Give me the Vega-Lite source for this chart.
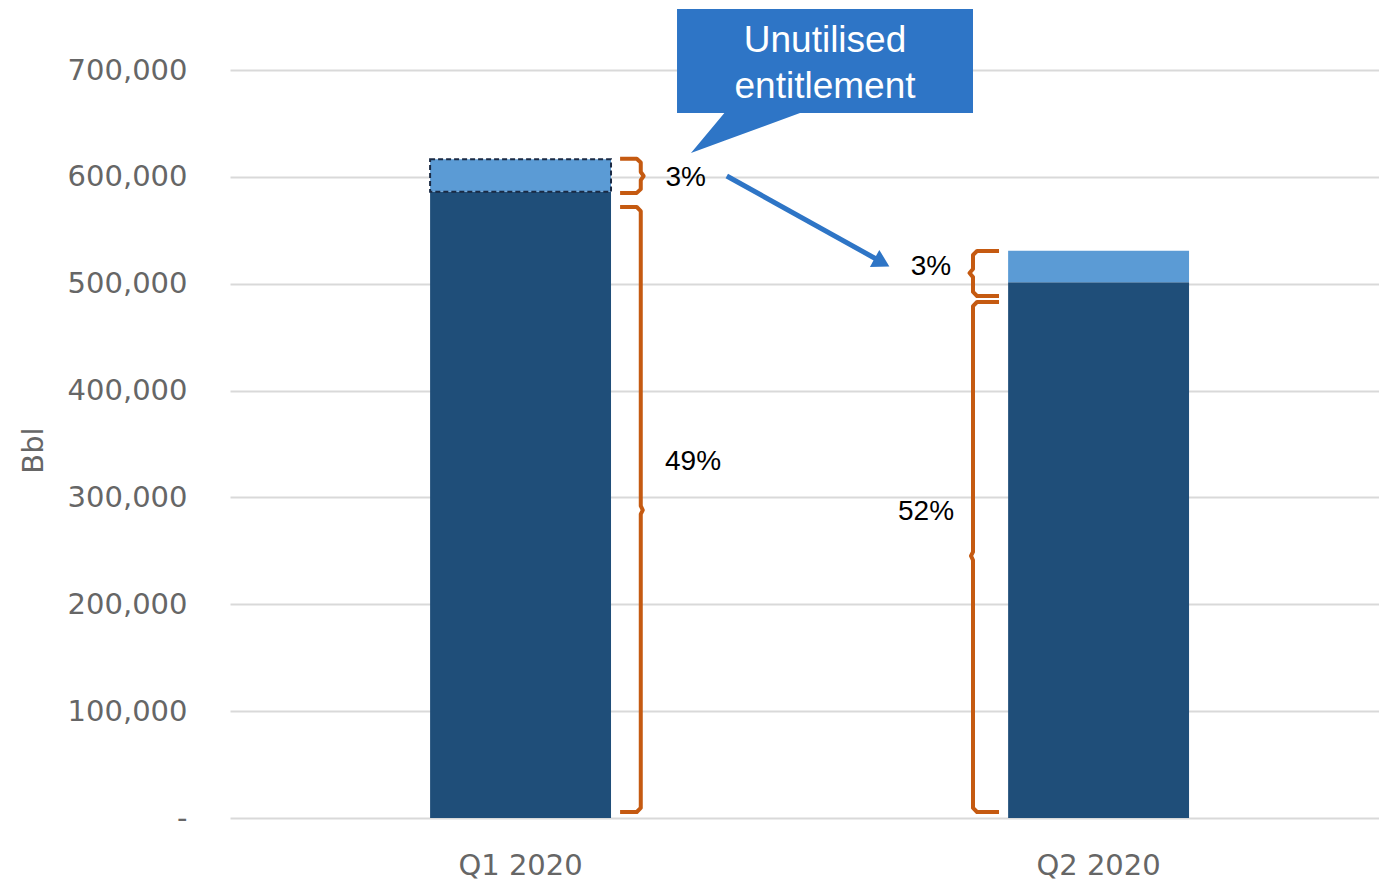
{
  "$schema": "https://vega.github.io/schema/vega-lite/v6.json",
  "width": 1149,
  "height": 748,
  "autosize": {"type": "none"},
  "padding": {"left": 230, "top": 70, "right": 0, "bottom": 65},
  "background": "white",
  "config": {"view": {"stroke": null}, "font": "DejaVu Sans"},
  "datasets": {
    "bars": [
      {"quarter": "Q1 2020", "utilised": 586100, "entitlement": 616400},
      {"quarter": "Q2 2020", "utilised": 501300, "entitlement": 530900}
    ],
    "braces": [
      {"brace": "q1s", "i": 1, "ax": 0.679, "ay": 617000},
      {"brace": "q1s", "i": 2, "ax": 0.708, "ay": 617000},
      {"brace": "q1s", "i": 3, "ax": 0.715, "ay": 613500},
      {"brace": "q1s", "i": 4, "ax": 0.715, "ay": 604500},
      {"brace": "q1s", "i": 5, "ax": 0.72, "ay": 600800},
      {"brace": "q1s", "i": 6, "ax": 0.715, "ay": 597000},
      {"brace": "q1s", "i": 7, "ax": 0.715, "ay": 588500},
      {"brace": "q1s", "i": 8, "ax": 0.708, "ay": 585000},
      {"brace": "q1s", "i": 9, "ax": 0.679, "ay": 585000},
      {"brace": "q1b", "i": 1, "ax": 0.679, "ay": 571800},
      {"brace": "q1b", "i": 2, "ax": 0.708, "ay": 571800},
      {"brace": "q1b", "i": 3, "ax": 0.715, "ay": 568000},
      {"brace": "q1b", "i": 4, "ax": 0.715, "ay": 292000},
      {"brace": "q1b", "i": 5, "ax": 0.7185, "ay": 288200},
      {"brace": "q1b", "i": 6, "ax": 0.715, "ay": 284400},
      {"brace": "q1b", "i": 7, "ax": 0.715, "ay": 9400},
      {"brace": "q1b", "i": 8, "ax": 0.708, "ay": 5600},
      {"brace": "q1b", "i": 9, "ax": 0.679, "ay": 5600},
      {"brace": "q2s", "i": 1, "ax": 1.3386, "ay": 530600},
      {"brace": "q2s", "i": 2, "ax": 1.3003, "ay": 530600},
      {"brace": "q2s", "i": 3, "ax": 1.2933, "ay": 526900},
      {"brace": "q2s", "i": 4, "ax": 1.2933, "ay": 513800},
      {"brace": "q2s", "i": 5, "ax": 1.2873, "ay": 510000},
      {"brace": "q2s", "i": 6, "ax": 1.2933, "ay": 506200},
      {"brace": "q2s", "i": 7, "ax": 1.2933, "ay": 492300},
      {"brace": "q2s", "i": 8, "ax": 1.3003, "ay": 488500},
      {"brace": "q2s", "i": 9, "ax": 1.3386, "ay": 488500},
      {"brace": "q2b", "i": 1, "ax": 1.3386, "ay": 482900},
      {"brace": "q2b", "i": 2, "ax": 1.3003, "ay": 482900},
      {"brace": "q2b", "i": 3, "ax": 1.2933, "ay": 479100},
      {"brace": "q2b", "i": 4, "ax": 1.2933, "ay": 249000},
      {"brace": "q2b", "i": 5, "ax": 1.2898, "ay": 245200},
      {"brace": "q2b", "i": 6, "ax": 1.2933, "ay": 241400},
      {"brace": "q2b", "i": 7, "ax": 1.2933, "ay": 9400},
      {"brace": "q2b", "i": 8, "ax": 1.3003, "ay": 5600},
      {"brace": "q2b", "i": 9, "ax": 1.3386, "ay": 5600}
    ],
    "pcts": [
      {"label": "3%", "ax": 0.7931, "ay": 598900},
      {"label": "49%", "ax": 0.806, "ay": 333200},
      {"label": "3%", "ax": 1.2202, "ay": 515600},
      {"label": "52%", "ax": 1.2115, "ay": 286400}
    ],
    "box": [{"x1": 0.7781, "x2": 1.2933, "y1": 659760, "y2": 757090}],
    "boxText": [
      {"label": "Unutilised", "ax": 1.0357, "ay": 727500},
      {"label": "entitlement", "ax": 1.0357, "ay": 684500}
    ],
    "pointer": [
      {"ax": 0.8024, "top": 622330, "bottom": 622330},
      {"ax": 0.8616, "top": 660500, "bottom": 634020},
      {"ax": 0.9922, "top": 660500, "bottom": 659760}
    ],
    "arrow": [
      {"i": 1, "ax": 0.8647, "ay": 600800},
      {"i": 2, "ax": 1.1279, "ay": 522200}
    ],
    "arrowHead": [{"ax": 1.1349, "ay": 519850}]
  },
  "resolve": {"scale": {"x": "independent"}},
  "layer": [
    {
      "data": {"name": "bars"},
      "mark": {"type": "bar", "color": "#1F4E79"},
      "encoding": {
        "x": {
          "field": "quarter", "type": "nominal",
          "scale": {"paddingInner": 0.687, "paddingOuter": 0.3374, "align": 0.513},
          "axis": {"title": null, "labelAngle": 0, "labelFontSize": 29, "labelColor": "#666666", "labelPadding": 33, "ticks": false, "domain": false, "labelFont": "DejaVu Sans"}
        },
        "y": {
          "field": "utilised", "type": "quantitative",
          "scale": {"domain": [0, 700000], "nice": false},
          "axis": {
            "title": "Bbl", "titleFontSize": 29, "titleColor": "#666666", "titleFontWeight": "normal",
            "titleX": -197, "titleY": 380, "titleAngle": 270, "titleAlign": "center", "titleBaseline": "middle",
            "values": [0, 100000, 200000, 300000, 400000, 500000, 600000, 700000],
            "labelExpr": "datum.value === 0 ? '-' : format(datum.value, ',')",
            "labelFontSize": 29, "labelColor": "#666666", "labelPadding": 43, "ticks": false, "domain": false,
            "grid": true, "gridColor": "#d9d9d9", "gridWidth": 2
          }
        },
        "y2": {"datum": 0}
      }
    },
    {
      "data": {"name": "bars"},
      "mark": {"type": "bar", "color": "#5B9BD5", "strokeDash": [5, 3], "strokeWidth": 2},
      "encoding": {
        "x": {"field": "quarter", "type": "nominal", "scale": {"paddingInner": 0.687, "paddingOuter": 0.3374, "align": 0.513}, "axis": null},
        "y": {"field": "utilised", "type": "quantitative", "scale": {"domain": [0, 700000], "nice": false}},
        "y2": {"field": "entitlement"},
        "stroke": {"condition": {"test": "datum.quarter === 'Q1 2020'", "value": "#1a2a44"}, "value": null}
      }
    },
    {
      "data": {"name": "braces"},
      "mark": {"type": "line", "color": "#C55A11", "strokeWidth": 4, "strokeJoin": "round"},
      "encoding": {
        "x": {"field": "ax", "type": "quantitative", "scale": {"domain": [0, 2], "nice": false, "zero": false}, "axis": null},
        "y": {"field": "ay", "type": "quantitative", "scale": {"domain": [0, 700000], "nice": false}},
        "detail": {"field": "brace"},
        "order": {"field": "i"}
      }
    },
    {
      "data": {"name": "pcts"},
      "mark": {"type": "text", "font": "Liberation Sans", "fontSize": 28, "color": "#000000", "align": "center", "baseline": "middle"},
      "encoding": {
        "x": {"field": "ax", "type": "quantitative", "scale": {"domain": [0, 2], "nice": false, "zero": false}, "axis": null},
        "y": {"field": "ay", "type": "quantitative", "scale": {"domain": [0, 700000], "nice": false}},
        "text": {"field": "label"}
      }
    },
    {
      "data": {"name": "pointer"},
      "mark": {"type": "area", "color": "#2E75C6", "opacity": 1},
      "encoding": {
        "x": {"field": "ax", "type": "quantitative", "scale": {"domain": [0, 2], "nice": false, "zero": false}, "axis": null},
        "y": {"field": "top", "type": "quantitative", "scale": {"domain": [0, 700000], "nice": false}},
        "y2": {"field": "bottom"}
      }
    },
    {
      "data": {"name": "box"},
      "mark": {"type": "rect", "color": "#2E75C6"},
      "encoding": {
        "x": {"field": "x1", "type": "quantitative", "scale": {"domain": [0, 2], "nice": false, "zero": false}, "axis": null},
        "x2": {"field": "x2"},
        "y": {"field": "y1", "type": "quantitative", "scale": {"domain": [0, 700000], "nice": false}},
        "y2": {"field": "y2"}
      }
    },
    {
      "data": {"name": "boxText"},
      "mark": {"type": "text", "font": "Liberation Sans", "fontSize": 37, "color": "#ffffff", "align": "center", "baseline": "middle"},
      "encoding": {
        "x": {"field": "ax", "type": "quantitative", "scale": {"domain": [0, 2], "nice": false, "zero": false}, "axis": null},
        "y": {"field": "ay", "type": "quantitative", "scale": {"domain": [0, 700000], "nice": false}},
        "text": {"field": "label"}
      }
    },
    {
      "data": {"name": "arrow"},
      "mark": {"type": "line", "color": "#2E75C6", "strokeWidth": 5},
      "encoding": {
        "x": {"field": "ax", "type": "quantitative", "scale": {"domain": [0, 2], "nice": false, "zero": false}, "axis": null},
        "y": {"field": "ay", "type": "quantitative", "scale": {"domain": [0, 700000], "nice": false}},
        "order": {"field": "i"}
      }
    },
    {
      "data": {"name": "arrowHead"},
      "mark": {"type": "point", "shape": "triangle-right", "filled": true, "color": "#2E75C6", "opacity": 1, "size": 380, "angle": 29},
      "encoding": {
        "x": {"field": "ax", "type": "quantitative", "scale": {"domain": [0, 2], "nice": false, "zero": false}, "axis": null},
        "y": {"field": "ay", "type": "quantitative", "scale": {"domain": [0, 700000], "nice": false}}
      }
    }
  ]
}
